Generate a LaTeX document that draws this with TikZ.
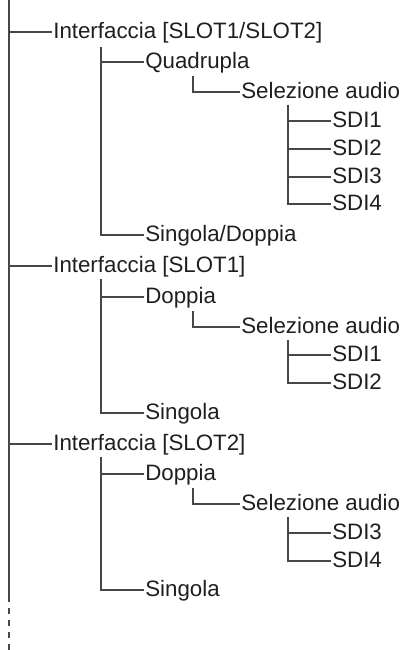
\documentclass[tikz,border=0pt]{standalone}
\usepackage{fontspec}
\setmainfont{Liberation Sans}

\begin{document}
\begin{tikzpicture}[x=1pt,y=-1pt,line width=1.6pt,color=black!72,
  lbl/.style={anchor=west,inner xsep=0.5pt,inner ysep=0pt,text height=13.5pt,text depth=0pt,
    text=black!88,font=\fontsize{22.3}{26}\selectfont},
  trunk/.style={line width=2.1pt}]
\useasboundingbox (0,0) rectangle (404,650);

% main trunk
\coordinate (top) at (9,0);
\coordinate (cut) at (9,602);
\coordinate (bot) at (9,650);
\draw[trunk] (top) -- (cut);
\draw[trunk,dash pattern=on 6pt off 6pt,dash phase=6pt] (cut) -- (bot);

% interfaces
\node[lbl] (if12) at (52,32) {Interfaccia [SLOT1/SLOT2]};
\node[lbl] (if1) at (52,266) {Interfaccia [SLOT1]};
\node[lbl] (if2) at (52,444) {Interfaccia [SLOT2]};
\foreach \n in {if12,if1,if2}
  \draw (top |- \n.west) -- (\n.west);

% SLOT1/SLOT2
\node[lbl] (quad) at (144,62) {Quadrupla};
\node[lbl] (selA) at (240,92) {Selezione audio};
\node[lbl] (sdiA1) at (331,121) {SDI1};
\node[lbl] (sdiA2) at (331,149) {SDI2};
\node[lbl] (sdiA3) at (331,177) {SDI3};
\node[lbl] (sdiA4) at (331,204) {SDI4};
\node[lbl] (sdA) at (144,235) {Singola/Doppia};
\coordinate (brA) at (101,47);
\coordinate (elA) at (193,76);
\coordinate (grA) at (288,105);
\draw (brA) |- (sdA.west);
\draw (brA |- quad.west) -- (quad.west);
\draw (elA) |- (selA.west);
\draw (grA) |- (sdiA4.west);
\foreach \k in {1,2,3}
  \draw (grA |- sdiA\k.west) -- (sdiA\k.west);

% SLOT1
\node[lbl] (dopB) at (144,297) {Doppia};
\node[lbl] (selB) at (240,327) {Selezione audio};
\node[lbl] (sdiB1) at (331,355) {SDI1};
\node[lbl] (sdiB2) at (331,383) {SDI2};
\node[lbl] (sinB) at (144,413) {Singola};
\coordinate (brB) at (101,279);
\coordinate (elB) at (193,311);
\coordinate (grB) at (288,340);
\draw (brB) |- (sinB.west);
\draw (brB |- dopB.west) -- (dopB.west);
\draw (elB) |- (selB.west);
\draw (grB) |- (sdiB2.west);
\draw (grB |- sdiB1.west) -- (sdiB1.west);

% SLOT2
\node[lbl] (dopC) at (144,474) {Doppia};
\node[lbl] (selC) at (240,504) {Selezione audio};
\node[lbl] (sdiC3) at (331,533) {SDI3};
\node[lbl] (sdiC4) at (331,561) {SDI4};
\node[lbl] (sinC) at (144,590) {Singola};
\coordinate (brC) at (101,457);
\coordinate (elC) at (193,488);
\coordinate (grC) at (288,517);
\draw (brC) |- (sinC.west);
\draw (brC |- dopC.west) -- (dopC.west);
\draw (elC) |- (selC.west);
\draw (grC) |- (sdiC4.west);
\draw (grC |- sdiC3.west) -- (sdiC3.west);
\end{tikzpicture}
\end{document}
